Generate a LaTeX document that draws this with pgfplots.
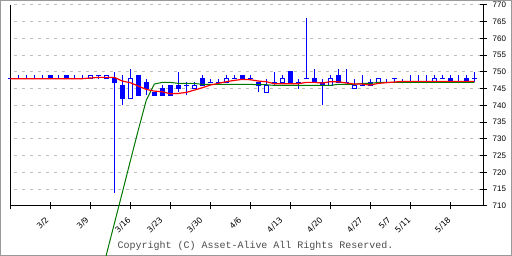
\documentclass[border=0pt]{standalone}
\usepackage{pgfplots}
\pgfplotsset{compat=1.18}
\usepackage{pgfplotstable}
\usepackage{fontspec}
\setmainfont{Liberation Sans}
\newfontfamily\labfont{Liberation Sans}
\newfontfamily\xfont{DejaVu Sans}
\newfontfamily\cmono{Liberation Mono}
\definecolor{cblue}{RGB}{0,0,255}
\definecolor{cred}{RGB}{255,0,0}
\definecolor{cgreen}{RGB}{0,120,0}
\definecolor{gridgray}{RGB}{190,190,190}

% down / flat candles (open >= close): k open high low close
\pgfplotstableread{
k o h l c
-1 748 748 748 748
0 748 749 748 748
1 748 749 748 748
2 748 749 748 748
3 748 749 748 748
4 749 749 748 748
5 748 749 748 748
6 749 749 748 748
7 748 749 748 748
8 748 749 748 748
10 749 749 748 749
12 748 750 714 747
13 746 749 740 742
15 749 749 743 743
16 747 748 743 745
17 744 744 743 743
18 745 746 743 743
19 746 746 743 743
20 746 750 744 745
21 746 747 743 746
23 748 749 746 746
24 747 748 747 747
25 747 748 747 747
27 748 749 748 748
28 749 749 748 748
29 748 749 748 748
30 747 747 744 746
32 747 750 746 747
34 750 750 747 747
35 747 748 745 747
36 748 766 748 748
37 748 751 747 747
38 747 748 740 746
40 749 751 747 747
41 747 751 747 747
43 746 749 746 746
44 747 748 746 746
46 747 748 747 747
47 748 748 747 748
48 747 748 747 747
49 747 749 747 747
50 747 749 747 747
51 747 749 747 747
53 748 749 748 748
54 748 749 747 747
55 747 749 747 747
56 748 749 747 747
57 748 750 747 748
}\downc

% up candles (close > open)
\pgfplotstableread{
k o h l c
9 748 749 748 749
11 748 749 748 749
14 742 751 742 748
22 745 747 745 746
26 747 749 747 748
31 744 748 744 746
33 747 749 747 748
39 746 749 746 748
42 745 748 745 746
45 747 748 747 748
52 747 749 747 748
}\upc

\pgfplotstableread{
k v
-1 748
0 748
1 748
2 748
3 748
4 748
5 748
6 748
7 748
8 748
9 748.2
10 748.4
11 748.4
12 748.4
13 747.3
14 746.8
15 745.8
16 744.8
17 744.3
18 744.1
19 743.5
20 743.6
21 743.9
22 744.6
23 745.3
24 746.1
25 746.6
26 747.1
27 747.5
28 747.8
29 747.7
30 747.3
31 747.1
32 746.5
33 746.5
34 746.5
35 746.5
36 746.9
37 746.9
38 746.7
39 747.1
40 747.1
41 746.7
42 746.4
43 746.4
44 746.1
45 746.6
46 746.8
47 747.0
48 747.2
49 747.2
50 747.2
51 747.2
52 747.2
53 747.2
54 747.2
55 747.2
56 747.2
57 747.2
}\redma

\pgfplotstableread{
k v
10 686.0
11 695.4
12 704.7
13 714.0
14 723.4
15 732.7
16 741.6
17 746.4
18 746.9
19 746.9
20 746.6
21 746.6
22 746.6
23 746.3
24 746.3
25 746.3
26 746.3
27 746.3
28 746.3
29 746.3
30 746.2
31 746.2
32 746.0
33 746.0
34 746.0
35 746.0
36 746.0
37 746.0
38 746.0
39 746.0
40 746.3
41 746.3
42 746.3
43 746.6
44 746.6
45 746.9
46 746.9
47 746.9
48 746.9
49 746.9
50 746.9
51 746.9
52 746.9
53 746.9
54 746.9
55 746.9
56 746.9
57 746.9
}\greenma

\begin{document}
\begin{tikzpicture}
\draw[black!40, line width=1pt] (0.5pt,0.5pt) rectangle (511.5pt,255.5pt);
\begin{axis}[
  scale only axis, width=472.5pt, height=201pt,
  at={(10.5pt,50pt)}, anchor=south west,
  xmin=-0.975, xmax=58.0875, ymin=710, ymax=770,
  clip=false,
  axis x line=bottom, axis y line=right,
  axis line style={-, line width=1pt, black},
  xtick={-0.975,4,9,14,19,24,29,34,39,44,49,54},
  xticklabels={},
  extra x ticks={3.65,8.65,13.9,17.9,22.9,27.75,32.9,37.9,42.9,46.4,48.9,53.9},
  extra x tick labels={3/2,3/9,3/16,3/23,3/30,4/6,4/13,4/20,4/27,5/7,5/11,5/18},
  extra x tick style={major tick length=0pt, tick style={draw=none},
    xticklabel style={yshift=-12.5pt, rotate=45, anchor=east, inner sep=0pt,
      font=\xfont\fontsize{8}{8}\selectfont}},
  ytick={710,715,...,770},
  tick align=center, major tick length=7pt,
  tick style={black, line width=1pt},
  ymajorgrids,
  grid style={gridgray, line width=1pt, dash pattern=on 3.3pt off 4.7pt, dash phase=4.5pt},
  /pgf/number format/assume math mode=true,
  yticklabel style={font=\labfont\fontsize{8}{8}\selectfont, anchor=west, inner sep=0pt, xshift=6pt},
]
\draw[black, line width=1pt] (rel axis cs:0,0) -- (rel axis cs:0,1);
% wicks
\addplot[draw=none, mark=none, error bars/.cd, y dir=plus, y explicit, error mark=none,
  error bar style={draw=cblue, line width=1pt, solid}]
  table[x=k, y=l, y error expr=\thisrow{h}-\thisrow{l}] \downc;
\addplot[draw=none, mark=none, error bars/.cd, y dir=plus, y explicit, error mark=none,
  error bar style={draw=cblue, line width=1pt, solid}]
  table[x=k, y=l, y error expr=\thisrow{h}-\thisrow{l}] \upc;
% filled bodies
\addplot[draw=none, mark=none, error bars/.cd, y dir=plus, y explicit, error mark=none,
  error bar style={draw=cblue, line width=5pt, solid}]
  table[x=k, y expr=\thisrow{c}-0.15, y error expr=\thisrow{o}-\thisrow{c}+0.3] \downc;
% hollow bodies
\addplot[draw=none, mark=none, error bars/.cd, y dir=plus, y explicit, error mark=none,
  error bar style={draw=cblue, line width=5pt, solid}]
  table[x=k, y expr=\thisrow{o}-0.15, y error expr=\thisrow{c}-\thisrow{o}+0.3] \upc;
\addplot[draw=none, mark=none, error bars/.cd, y dir=plus, y explicit, error mark=none,
  error bar style={draw=white, line width=3pt, solid}]
  table[x=k, y expr=\thisrow{o}+0.15, y error expr=\thisrow{c}-\thisrow{o}-0.3] \upc;
% moving averages
\addplot[cgreen, line width=1pt, mark=none] table[x=k, y=v] \greenma;
\addplot[cred, line width=1.2pt, mark=none] table[x=k, y=v] \redma;
\end{axis}
\node[anchor=base west, inner sep=0pt, font=\cmono\fontsize{10}{10}\selectfont, text=black!70] at (117.3pt,7.7pt) {Copyright (C) Asset-Alive All Rights Reserved.};
\pgfresetboundingbox
\path[use as bounding box] (0,0) rectangle (512pt,256pt);
\end{tikzpicture}
\end{document}
